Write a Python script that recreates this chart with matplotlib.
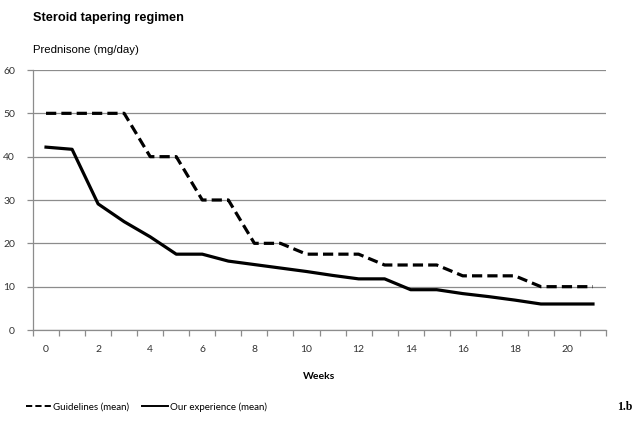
import matplotlib
matplotlib.use("Agg")
import matplotlib.pyplot as plt

# data
weeks = list(range(22))
guidelines = [50, 50, 50, 50, 40, 40, 30, 30, 20, 20, 17.5, 17.5, 17.5,
              15, 15, 15, 12.5, 12.5, 12.5, 10, 10, 10]
experience = [42.2, 41.7, 29.1, 25, 21.5, 17.5, 17.5, 15.9, 15.1, 14.3, 13.5,
              12.6, 11.8, 11.8, 9.3, 9.3, 8.4, 7.7, 6.9, 6.0, 6.0, 6.0]
x_labels = [str(w) for w in range(0, 21, 2)]
y_ticks = [0, 10, 20, 30, 40, 50, 60]

fig = plt.figure(figsize=(6.36, 4.28), dpi=100)
ax = fig.add_axes([33/636, 1-330/428, (606-33)/636, (330-70)/428])

grey = "#8c8c8c"
ax.plot(weeks, guidelines, color="black", lw=2.3, ls=(0, (3.2, 1.6)),
        label="Guidelines (mean)")
ax.plot(weeks, experience, color="black", lw=2.3, label="Our experience (mean)")

ax.set_xlim(-0.5, 21.5)
ax.set_ylim(0, 60)
ax.set_yticks(y_ticks)
ax.yaxis.grid(True, color=grey, lw=0.9)
ax.set_axisbelow(True)
for s in ["top", "right"]:
    ax.spines[s].set_visible(False)
for s in ["left", "bottom"]:
    ax.spines[s].set_color(grey)
    ax.spines[s].set_linewidth(0.9)

ax.set_xticks(range(0, 21, 2))
ax.set_xticklabels(x_labels)
ax.set_xticks([w - 0.5 for w in range(23)], minor=True)
ax.tick_params(axis="x", which="major", length=0, pad=11)
ax.tick_params(axis="x", which="minor", length=4, color=grey, width=0.9)
ax.tick_params(axis="y", length=4, color=grey, width=0.9, pad=9)
for lab in ax.get_xticklabels() + ax.get_yticklabels():
    lab.set_fontfamily("Lato")
    lab.set_fontsize(7.5)
    lab.set_color("#333333")

ax.set_xlabel("Weeks", fontfamily="Lato", fontweight="bold", fontsize=7.5,
              labelpad=13)

fig.text(33/636, 1-18/428, "Steroid tapering regimen", fontfamily="Liberation Sans",
         fontweight="bold", fontsize=9.2, va="center", ha="left")
fig.text(33/636, 1-50/428, "Prednisone (mg/day)", fontfamily="Liberation Sans",
         fontsize=8.2, va="center", ha="left")

leg = fig.legend(loc="center left", bbox_to_anchor=(17/636, 1-407/428), ncol=2,
                 frameon=False, prop={"family": "Lato", "size": 7},
                 handlelength=2.6, handletextpad=0.25, columnspacing=1.3)
for h in leg.get_lines():
    h.set_linewidth(1.4)

fig.text(632/636, 1-407/428, "1.b", fontfamily="Liberation Serif",
         fontweight="bold", fontsize=8.5, va="center", ha="right")

fig.savefig("out.png", dpi=100)
